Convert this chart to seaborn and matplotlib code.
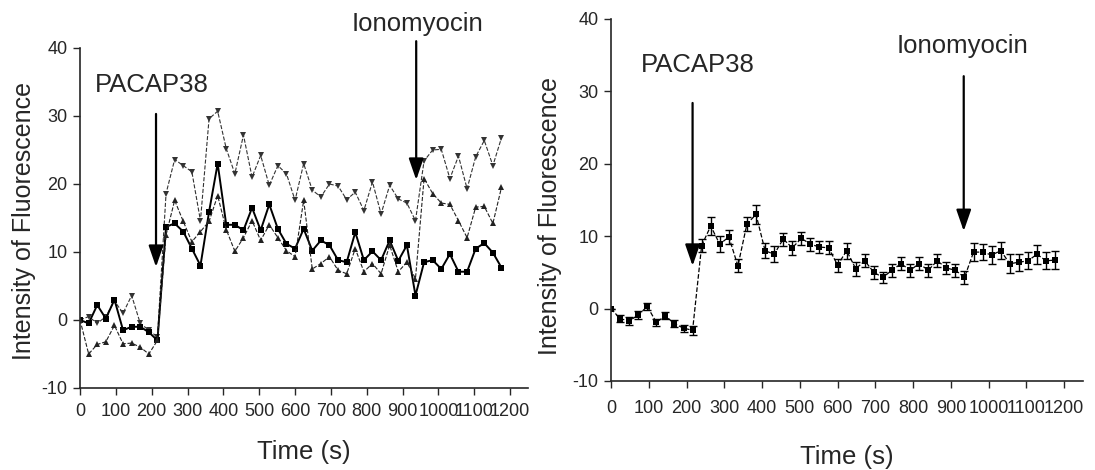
import matplotlib
matplotlib.use("Agg")
import matplotlib.pyplot as plt
import seaborn as sns
import pandas as pd

# sampling times (s)
time_s = [0, 24, 48, 72, 96, 120, 144, 168, 192, 216,
          240, 264, 288, 312, 336, 360, 384, 408, 432, 456,
          480, 504, 528, 552, 576, 600, 624, 648, 672, 696,
          720, 744, 768, 792, 816, 840, 864, 888, 912, 936,
          960, 984, 1008, 1032, 1056, 1080, 1104, 1128, 1152, 1176]

# left panel: three single cells
cell_a = [0, 0.5, -0.5, 0.5, 2.8, 1.0, 3.6, -0.5, -1.5, -2.5,
          18.6, 23.6, 22.7, 21.8, 14.6, 29.6, 30.7, 25.2, 21.5, 27.2,
          21.0, 24.2, 19.8, 22.7, 21.5, 17.6, 23.0, 19.1, 18.1, 20.0,
          19.7, 17.7, 18.8, 16.1, 20.3, 15.6, 19.8, 17.8, 17.2, 14.6,
          23.4, 25.0, 25.1, 20.8, 24.1, 19.3, 24.0, 26.4, 22.7, 26.8]
cell_b = [0, -0.5, 2.2, 0.2, 3.0, -1.5, -1.0, -1.0, -1.8, -3.0,
          13.7, 14.2, 13.0, 10.5, 8.0, 15.9, 23.0, 14.0, 14.0, 13.2,
          16.5, 13.2, 17.0, 13.4, 11.2, 10.5, 13.4, 10.2, 11.7, 11.0,
          8.8, 8.5, 12.9, 8.8, 10.1, 8.8, 11.7, 8.7, 11.0, 3.6,
          8.5, 8.8, 7.5, 9.7, 7.1, 7.1, 10.5, 11.3, 9.9, 7.7]
cell_c = [0, -5.0, -3.6, -3.2, -0.8, -3.5, -3.4, -4.0, -5.0, -3.0,
          12.5, 17.6, 14.5, 11.5, 13.0, 14.5, 18.3, 13.3, 10.1, 12.1,
          14.6, 11.7, 14.0, 12.1, 10.2, 9.3, 17.6, 7.5, 8.3, 9.3,
          7.3, 6.8, 10.5, 7.1, 8.3, 6.8, 11.0, 7.1, 8.5, 6.1,
          20.8, 18.6, 17.2, 17.0, 14.6, 12.1, 16.6, 16.7, 14.2, 19.5]

# right panel: mean +/- SEM
mean_f = [0, -1.4, -1.7, -0.9, 0.3, -1.9, -1.0, -2.1, -2.7, -3.0,
          8.7, 11.4, 8.9, 9.9, 5.9, 11.7, 13.0, 8.0, 7.5, 9.6,
          8.4, 9.7, 8.9, 8.5, 8.4, 6.0, 8.0, 5.5, 6.6, 5.0,
          4.3, 5.3, 6.2, 5.3, 6.2, 5.3, 6.6, 5.6, 5.3, 4.3,
          7.8, 7.8, 7.4, 8.0, 6.2, 6.4, 6.6, 7.5, 6.6, 6.7]
sem_f = [0, 0.5, 0.5, 0.5, 0.5, 0.5, 0.5, 0.5, 0.5, 0.6,
         0.9, 1.2, 1.1, 1.0, 0.9, 1.0, 1.3, 1.0, 1.1, 0.9,
         1.0, 0.9, 0.9, 0.8, 0.9, 0.9, 1.1, 1.0, 0.9, 0.9,
         0.8, 0.9, 0.9, 0.9, 0.9, 0.9, 0.9, 0.8, 0.9, 0.9,
         1.2, 1.1, 1.2, 1.2, 1.3, 1.2, 1.2, 1.3, 1.2, 1.3]

x_ticks = [0, 100, 200, 300, 400, 500, 600, 700, 800, 900, 1000, 1100, 1200]
y_ticks = [-10, 0, 10, 20, 30, 40]

sns.set_style("ticks")
plt.rcParams['font.family'] = ['Liberation Sans', 'DejaVu Sans']
plt.rcParams['axes.unicode_minus'] = False

df = pd.DataFrame({'t': time_s, 'a': cell_a, 'b': cell_b, 'c': cell_c,
                   'm': mean_f, 'e': sem_f})

fig = plt.figure(figsize=(10.95, 4.70), dpi=100)
ax1 = fig.add_axes([0.0731, 0.1745, 0.4091, 0.7234])
ax2 = fig.add_axes([0.558, 0.1894, 0.4311, 0.7702])

# left panel
sns.lineplot(data=df, x='t', y='a', ax=ax1, color='#333333', lw=0.8,
             marker='v', markersize=4.5, markeredgewidth=0, ls='--', dashes=(3, 1))
sns.lineplot(data=df, x='t', y='b', ax=ax1, color='black', lw=1.4,
             marker='s', markersize=4.5, markeredgewidth=0)
sns.lineplot(data=df, x='t', y='c', ax=ax1, color='#222222', lw=0.8,
             marker='^', markersize=4.5, markeredgewidth=0, ls='--', dashes=(3, 1))

# right panel
ax2.errorbar(df['t'], df['m'], yerr=df['e'], fmt='none', ecolor='black',
             elinewidth=1.0, capsize=3, capthick=1.0)
sns.lineplot(data=df, x='t', y='m', ax=ax2, color='black', lw=0.9,
             marker='s', markersize=4.5, markeredgewidth=0, ls='--', dashes=(3, 1))

arrow = dict(arrowstyle='-|>,head_length=1.3,head_width=0.45', color='black',
             lw=1.6, shrinkA=0, shrinkB=0)

for ax, tpad, xpad in [(ax1, 6, 14), (ax2, 9, 20)]:
    ax.set_xlim(0, 1250)
    ax.set_ylim(-10, 40)
    ax.set_xticks(x_ticks)
    ax.set_yticks(y_ticks)
    ax.tick_params(labelsize=13, length=5, width=1, direction='out', pad=4)
    ax.tick_params(axis='x', pad=tpad)
    for s in ['left', 'bottom']:
        ax.spines[s].set_linewidth(1.2)
    sns.despine(ax=ax)
    ax.set_xlabel('Time (s)', fontsize=18.5, labelpad=xpad)
    ax.set_ylabel('Intensity of Fluorescence', fontsize=18)

ax1.yaxis.set_label_coords(-0.098, 0.49)
ax2.yaxis.set_label_coords(-0.103, 0.455)

# annotations, left
ax1.annotate('', xy=(212, 7.8), xytext=(212, 30.3), arrowprops=arrow)
ax1.text(200, 34.6, 'PACAP38', fontsize=18.5, ha='center', va='center')
ax1.annotate('', xy=(938, 20.6), xytext=(938, 41.0), arrowprops=arrow,
             annotation_clip=False)
ax1.text(941, 43.5, 'Ionomyocin', fontsize=18.5, ha='center', va='center', clip_on=False)

# annotations, right
ax2.annotate('', xy=(216, 5.9), xytext=(216, 28.4), arrowprops=arrow)
ax2.text(229, 33.7, 'PACAP38', fontsize=18.5, ha='center', va='center')
ax2.annotate('', xy=(934, 10.7), xytext=(934, 32.1), arrowprops=arrow)
ax2.text(931, 36.2, 'Ionomyocin', fontsize=18.5, ha='center', va='center')

fig.savefig('out.png', dpi=100)
